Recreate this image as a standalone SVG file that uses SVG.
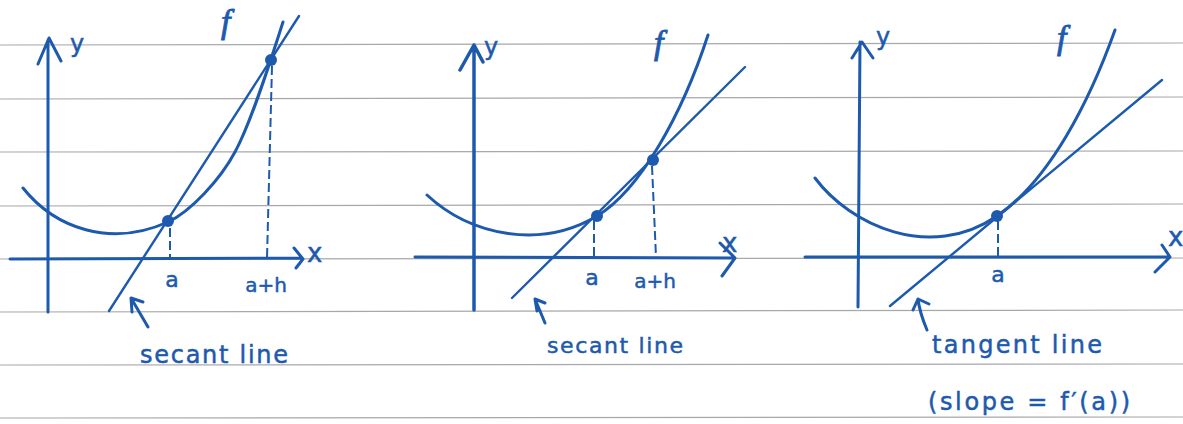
<svg xmlns="http://www.w3.org/2000/svg" width="1183" height="424" viewBox="0 0 1183 424">
<style>
.rule{stroke:#a8a8a8;stroke-width:1.2}
.ink{fill:none;stroke:#1d5aae;stroke-width:3;stroke-linecap:round;stroke-linejoin:round}
.thin{fill:none;stroke:#1d5aae;stroke-width:2.4;stroke-linecap:round}
.dash{fill:none;stroke:#1d5aae;stroke-width:2;stroke-dasharray:9 4}
.dot{fill:#1d5aae}
.lbl{fill:#1d5aae;stroke:#1d5aae;stroke-width:0.5;font-family:"DejaVu Sans",sans-serif}
.fn{fill:#1d5aae;stroke:#1d5aae;stroke-width:0.9;font-family:"Liberation Serif",serif;font-style:italic}
</style>
<rect width="1183" height="424" fill="#ffffff"/>
<g id="paper">
<line class="rule" x1="0" y1="45" x2="1183" y2="43"/>
<line class="rule" x1="0" y1="99" x2="1183" y2="97"/>
<line class="rule" x1="0" y1="152" x2="1183" y2="151"/>
<line class="rule" x1="0" y1="206" x2="1183" y2="204"/>
<line class="rule" x1="0" y1="259" x2="1183" y2="258"/>
<line class="rule" x1="0" y1="312" x2="1183" y2="310"/>
<line class="rule" x1="0" y1="365" x2="1183" y2="364"/>
<line class="rule" x1="0" y1="418" x2="1183" y2="417"/>
</g>
<g id="panel1">
<g id="axes1">
<path class="ink" d="M48,312 L48,40 M38,64 L49,38 L61,61"/>
<path class="ink" d="M10,259 L302,258 M294,248 L303,259 L296,268"/>
<text class="lbl" x="70" y="52" font-size="24">y</text>
<text class="lbl" x="307" y="262" font-size="26">x</text>
</g>
<g id="curve1">
<path class="ink" d="M23,188 C55,228 110,248 168,222 C190,212 220,180 235,152 C248,128 262,88 283,22"/>
<text class="fn" x="221" y="33" font-size="34">f</text>
</g>
<g id="secant1">
<path class="thin" d="M109,311 L299,16"/>
<circle class="dot" cx="168" cy="221" r="6"/>
<circle class="dot" cx="271" cy="60" r="6"/>
</g>
<g id="ticks1">
<path class="dash" d="M170,228 L170,258"/>
<path class="dash" d="M272,66 L267,258"/>
<text class="lbl" x="172" y="287" font-size="22" text-anchor="middle">a</text>
<text class="lbl" x="266" y="292" font-size="20" text-anchor="middle">a+h</text>
</g>
<g id="label1">
<path class="ink" d="M148,327 L131,298 M132,312 L131,298 L143,302"/>
<text class="lbl" x="140" y="363" font-size="24" textLength="148">secant line</text>
</g>
</g>
<g id="panel2">
<g id="axes2">
<path class="ink" d="M474,310 L474,45 M460,70 L474,45 L483,62" style="stroke-width:3.5"/>
<path class="ink" d="M415,257 L735,258 M720,243 L735,258 L722,276"/>
<text class="lbl" x="484" y="55" font-size="24">y</text>
<text class="lbl" x="722" y="252" font-size="26">x</text>
</g>
<g id="curve2">
<path class="ink" d="M427,195 C470,235 540,250 597,216 C640,190 682,115 708,35"/>
<text class="fn" x="654" y="54" font-size="34">f</text>
</g>
<g id="secant2">
<path class="thin" d="M512,298 L745,67"/>
<circle class="dot" cx="597" cy="216" r="6"/>
<circle class="dot" cx="653" cy="160" r="6"/>
</g>
<g id="ticks2">
<path class="dash" d="M594,221 L594,257"/>
<path class="dash" d="M652,166 L656,257"/>
<text class="lbl" x="592" y="285" font-size="22" text-anchor="middle">a</text>
<text class="lbl" x="655" y="288" font-size="20" text-anchor="middle">a+h</text>
</g>
<g id="label2">
<path class="ink" d="M545,323 L535,299 M537,311 L535,299 L545,303"/>
<text class="lbl" x="547" y="353" font-size="22" textLength="136">secant line</text>
</g>
</g>
<g id="panel3">
<g id="axes3">
<path class="ink" d="M858,307 L860,42 M852,58 L862,42 L873,58"/>
<path class="ink" d="M805,257 L1170,257 M1162,245 L1170,257 L1155,272"/>
<text class="lbl" x="876" y="45" font-size="24">y</text>
<text class="lbl" x="1168" y="246" font-size="26">x</text>
</g>
<g id="curve3">
<path class="ink" d="M815,178 C850,225 930,262 997,216 C1050,180 1090,100 1115,30"/>
<text class="fn" x="1057" y="49" font-size="34">f</text>
</g>
<g id="tangent3">
<path class="thin" d="M890,306 L1162,80"/>
<circle class="dot" cx="997" cy="216" r="6"/>
</g>
<g id="ticks3">
<path class="dash" d="M998,221 L998,257"/>
<text class="lbl" x="998" y="282" font-size="22" text-anchor="middle">a</text>
</g>
<g id="label3">
<path class="ink" d="M927,330 C922,318 919,308 918,299 M913,310 L918,299 L929,304"/>
<text class="lbl" x="932" y="353" font-size="24" textLength="170">tangent line</text>
<text class="lbl" x="928" y="410" font-size="24" textLength="202">(slope = f′(a))</text>
</g>
</g>
</svg>
